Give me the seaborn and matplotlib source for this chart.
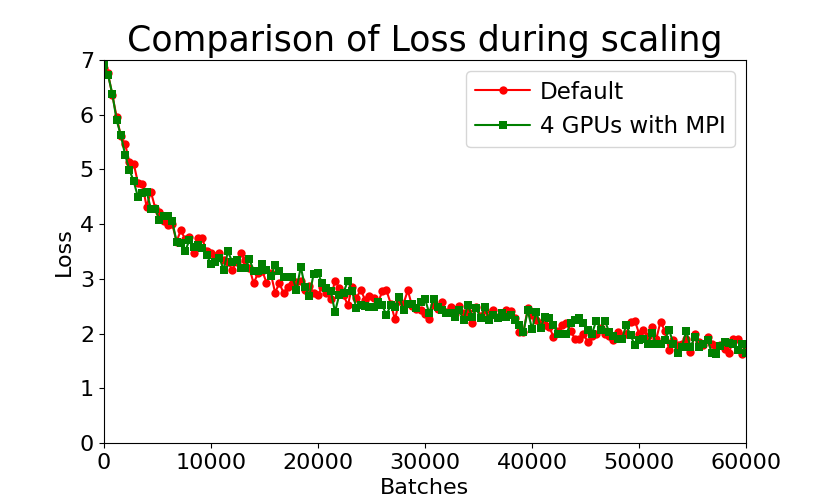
import matplotlib
matplotlib.use('Agg')
import matplotlib.pyplot as plt
import numpy as np
import seaborn as sns

# batches: one point every 400 batches, 0..60000
batches = np.arange(0, 60001, 400)

loss_default = [
    6.85, 6.75, 6.35, 5.96, 5.60, 5.46, 5.13, 5.10, 4.75, 4.73,
    4.32, 4.59, 4.30, 4.22, 4.05, 3.98, 4.00, 3.68, 3.89, 3.72,
    3.77, 3.47, 3.74, 3.74, 3.50, 3.47, 3.42, 3.47, 3.35, 3.30,
    3.17, 3.30, 3.48, 3.34, 3.20, 2.92, 3.10, 3.15, 2.93, 3.10,
    2.75, 2.92, 2.74, 2.85, 2.90, 2.95, 2.97, 2.80, 2.87, 2.75,
    2.71, 2.85, 2.75, 2.64, 2.97, 2.83, 2.70, 2.52, 2.86, 2.65,
    2.80, 2.62, 2.69, 2.66, 2.55, 2.77, 2.79, 2.55, 2.26, 2.60,
    2.55, 2.79, 2.50, 2.45, 2.43, 2.35, 2.26, 2.52, 2.45, 2.58,
    2.40, 2.49, 2.35, 2.50, 2.38, 2.40, 2.19, 2.49, 2.33, 2.43,
    2.30, 2.43, 2.30, 2.35, 2.43, 2.41, 2.28, 2.03, 2.03, 2.46,
    2.34, 2.25, 2.20, 2.15, 2.13, 1.94, 2.05, 2.15, 2.19, 2.05,
    1.91, 1.90, 2.00, 1.85, 1.96, 2.00, 2.10, 2.00, 1.95, 1.88,
    2.03, 1.96, 2.00, 2.22, 2.24, 2.00, 2.07, 1.95, 2.13, 1.90,
    2.22, 2.05, 1.71, 1.88, 1.80, 1.82, 1.90, 1.67, 2.00, 1.85,
    1.80, 1.94, 1.82, 1.75, 1.80, 1.72, 1.64, 1.91, 1.90, 1.63,
    1.75,
]

loss_mpi = [
    6.91, 6.72, 6.38, 5.90, 5.62, 5.26, 4.99, 4.78, 4.49, 4.57,
    4.59, 4.28, 4.28, 4.08, 4.14, 4.15, 4.05, 3.68, 3.65, 3.50,
    3.71, 3.59, 3.62, 3.56, 3.44, 3.28, 3.31, 3.38, 3.17, 3.50,
    3.31, 3.34, 3.19, 3.19, 3.36, 3.15, 3.15, 3.27, 3.17, 3.05,
    3.25, 3.15, 3.03, 3.03, 3.04, 2.80, 3.22, 2.85, 2.69, 3.09,
    3.10, 2.92, 2.83, 2.77, 2.40, 2.71, 2.75, 2.97, 2.77, 2.46,
    2.52, 2.50, 2.49, 2.49, 2.58, 2.52, 2.34, 2.52, 2.49, 2.67,
    2.43, 2.55, 2.55, 2.46, 2.58, 2.64, 2.37, 2.64, 2.49, 2.43,
    2.37, 2.37, 2.31, 2.43, 2.25, 2.52, 2.31, 2.46, 2.28, 2.49,
    2.25, 2.34, 2.28, 2.37, 2.31, 2.34, 2.25, 2.16, 2.03, 2.43,
    2.08, 2.40, 2.11, 2.31, 2.28, 2.16, 2.00, 1.99, 1.99, 2.19,
    2.25, 2.28, 2.19, 2.07, 2.00, 2.24, 2.07, 2.24, 2.03, 1.96,
    1.90, 1.90, 2.16, 1.97, 1.79, 1.88, 1.90, 1.82, 2.02, 1.81,
    1.82, 1.88, 2.07, 1.82, 1.65, 1.76, 2.05, 1.76, 1.93, 1.76,
    1.82, 1.88, 1.64, 1.63, 1.77, 1.85, 1.83, 1.82, 1.70, 1.82,
    1.64,
]

sns.set_style("ticks", {"text.color": "black", "axes.labelcolor": "black",
                        "xtick.color": "black", "ytick.color": "black",
                        "axes.edgecolor": "black"})
plt.rcParams['font.family'] = ['DejaVu Sans']

fig, ax = plt.subplots(figsize=(8.3, 4.98), dpi=100)
fig.subplots_adjust(left=0.125, right=0.899, top=0.88, bottom=0.11)

sns.lineplot(x=batches, y=loss_default, ax=ax, color='red', marker='o',
             markersize=6, markeredgewidth=0, linewidth=1.5, label='Default')
sns.lineplot(x=batches, y=loss_mpi, ax=ax, color='green', marker='s',
             markersize=6, markeredgewidth=0, linewidth=1.5, label='4 GPUs with MPI')

ax.set_xlim(0, 60000)
ax.set_ylim(0, 7)
ax.set_title('Comparison of Loss during scaling', fontsize=25)
ax.set_xlabel('Batches', fontsize=16)
ax.set_ylabel('Loss', fontsize=16)
ax.tick_params(labelsize=16)
ax.legend(loc='upper right', fontsize=16.6, handlelength=2.4, handletextpad=0.4)

fig.savefig('out.png', dpi=100)
